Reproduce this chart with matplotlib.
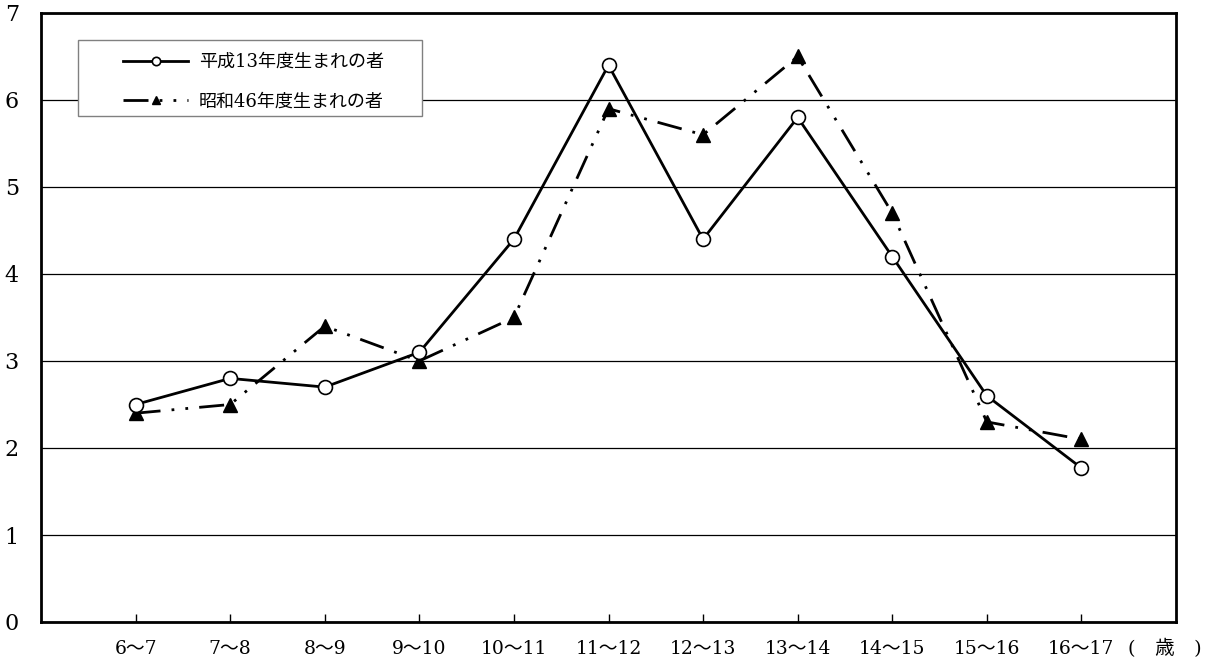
import matplotlib.pyplot as plt
from matplotlib.patches import Rectangle

plt.rcParams['font.family'] = ['DejaVu Serif', 'Noto Sans CJK JP']

ages = ['6〜7', '7〜8', '8〜9', '9〜10', '10〜11', '11〜12', '12〜13', '13〜14', '14〜15', '15〜16', '16〜17']
h13 = [2.5, 2.8, 2.7, 3.1, 4.4, 6.4, 4.4, 5.8, 4.2, 2.6, 1.77]
s46 = [2.4, 2.5, 3.4, 3.0, 3.5, 5.9, 5.6, 6.5, 4.7, 2.3, 2.1]
label_h13 = '平成13年度生まれの者'
label_s46 = '昭和46年度生まれの者'

W, H = 1218, 668
fig = plt.figure(figsize=(W / 100, H / 100), dpi=100)
ax = fig.add_axes([41 / W, 46 / H, 1135 / W, 609 / H])

x = list(range(1, len(ages) + 1))

ax.plot(x, h13, color='black', lw=2, marker='o', ms=10, mfc='white', mec='black', mew=1.2,
        label=label_h13, zorder=4)
ax.plot(x, s46, color='black', lw=2, linestyle=(0, (9, 4, 1, 4, 1, 4)), marker='^', ms=10,
        mfc='black', mec='black', label=label_s46, zorder=3)

ax.set_xlim(0, 12)
ax.set_ylim(0, 7)
ax.set_yticks(range(0, 8))
ax.yaxis.grid(True, color='black', lw=0.9)
ax.set_axisbelow(True)
ax.set_xticks(x)
ax.set_xticklabels(ages, fontsize=13.5)
ax.tick_params(axis='x', direction='in', length=6, width=1, pad=13)
ax.tick_params(axis='y', length=0, pad=16, labelsize=16)
for s in ax.spines.values():
    s.set_linewidth(2)

fig.text(1128 / W, 1 - 649 / H, '(　歳　)', fontsize=14, va='center', ha='left')

# legend box drawn separately so it can be wider than the entries
def ax_x(px):
    return (px - 41) / 1135

def ax_y(py):
    return 1 - (py - 13) / 609

ax.add_patch(Rectangle((ax_x(78), ax_y(116)), ax_x(422) - ax_x(78), ax_y(40) - ax_y(116),
                       transform=ax.transAxes, facecolor='white', edgecolor='gray', lw=1,
                       zorder=5))
leg = ax.legend(loc='upper left', bbox_to_anchor=(ax_x(123), ax_y(53)), fontsize=13,
                frameon=False, borderpad=0, labelspacing=1.2, handlelength=3.6,
                handletextpad=0.6, markerscale=0.6, borderaxespad=0)
leg.set_zorder(6)

fig.savefig('out.png', dpi=100)
